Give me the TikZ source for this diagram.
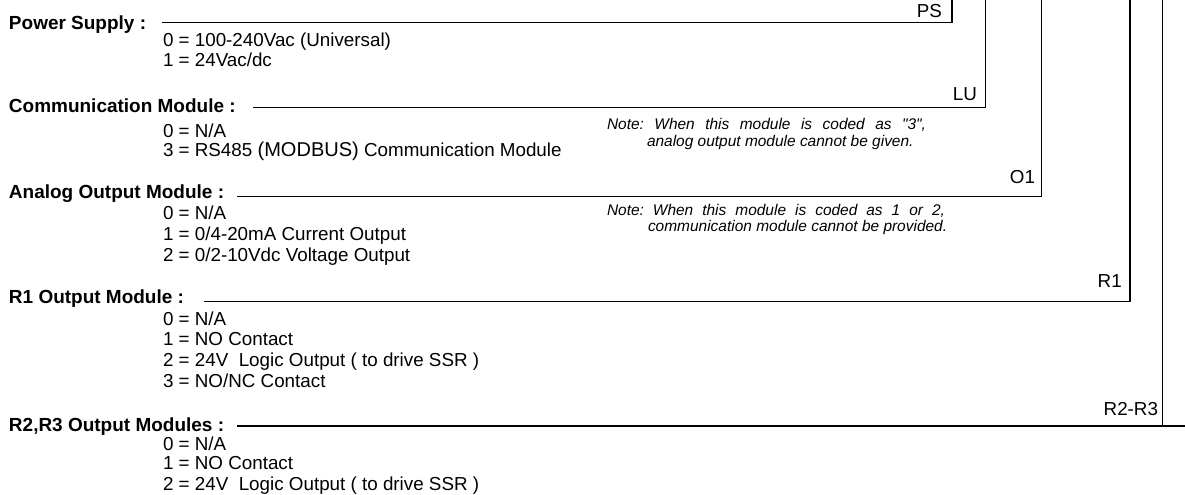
\documentclass[tikz,border=0pt]{standalone}
\usepackage{fontspec}
\setmainfont{Liberation Sans}
\frenchspacing
\newcommand\dq{\XeTeXglyph\XeTeXcharglyph"22\relax}

\begin{document}
\begin{tikzpicture}[x=0.2mm,y=-0.2mm,line width=0.75pt,
    every node/.style={inner sep=0pt,outer sep=0pt,font=\fontsize{10.7}{12}\selectfont},
    head/.style={anchor=base west,font=\fontsize{10.8}{12}\selectfont\bfseries},
    item/.style={anchor=base west},
    tag/.style={anchor=base east},
    note/.style={anchor=base west,font=\fontsize{8.8}{10}\selectfont\itshape}]
  \useasboundingbox (0,0) rectangle (1185,494);

  % power supply
  \node[head] (ps) at (9,29.3) {Power Supply :};
  \node[item] (ps0) at (163,46.7) {0 = 100-240Vac (Universal)};
  \node[item] (ps1) at (163,66.7) {1 = 24Vac/dc};
  \node[tag] (pstag) at (942,17.3) {PS};
  \coordinate (psa) at (162,22.7);
  \coordinate (psb) at (952,22.7);
  \coordinate (pst) at (952,0);
  \draw (psa) -- (psb) -- (pst);

  % communication
  \node[head] (lu) at (9,112.3) {Communication Module :};
  \node[item] (lu0) at (163,137.3) {0 = N/A};
  \node[item] (lu3) at (163,156.7) {3 = RS485 {\fontsize{11.4}{12}\selectfont(MODBUS)} Communication Module};
  \node[tag] (lutag) at (977,100) {LU};
  \node[note] (lunote1) at (607,129.3) {\makebox[63.8mm][s]{Note: When this module is coded as \dq3\dq,}};
  \node[note] (lunote2) at (647,146.7) {analog output module cannot be given.};
  \coordinate (lua) at (253,107.3);
  \coordinate (lub) at (985.7,107.3);
  \coordinate (lut) at (985.7,0);
  \draw (lua) -- (lub) -- (lut);

  % analog output
  \node[head] (oa) at (9,198.3) {Analog Output Module :};
  \node[item] (oa0) at (163,219.3) {0 = N/A};
  \node[item] (oa1) at (163,240.7) {1 = 0/4-20mA Current Output};
  \node[item] (oa2) at (163,261) {2 = 0/2-10Vdc Voltage Output};
  \node[tag] (oatag) at (1035,183.3) {O1};
  \node[note] (oanote1) at (607,215) {\makebox[67.6mm][s]{Note: When this module is coded as 1 or 2,}};
  \node[note] (oanote2) at (648,231.7) {communication module cannot be provided.};
  \coordinate (oaa) at (237,196.3);
  \coordinate (oab) at (1041.5,196.3);
  \coordinate (oat) at (1041.5,0);
  \draw (oaa) -- (oab) -- (oat);

  % relay 1
  \node[head] (ra) at (9,303.3) {R1 Output Module :};
  \node[item] (ra0) at (163,325) {0 = N/A};
  \node[item] (ra1) at (163,345.5) {1 = NO Contact};
  \node[item] (ra2) at (163,366) {2 = 24V~ Logic Output ( to drive SSR )};
  \node[item] (ra3) at (163,387) {3 = NO/NC Contact};
  \node[tag] (ratag) at (1121.7,287.7) {R1};
  \coordinate (raa) at (204,301.3);
  \coordinate (rab) at (1130,301.3);
  \coordinate (rat) at (1130,0);
  \draw (raa) -- (rab) -- (rat);

  % relay 2 and 3
  \node[head] (rb) at (9,431.7) {R2,R3 Output Modules :};
  \node[item] (rb0) at (163,450) {0 = N/A};
  \node[item] (rb1) at (163,469.7) {1 = NO Contact};
  \node[item] (rb2) at (163,490) {2 = 24V~ Logic Output ( to drive SSR )};
  \node[tag] (rbtag) at (1158,415) {R2-R3};
  \coordinate (rba) at (237,426);
  \coordinate (rbb) at (1162.7,426);
  \coordinate (rbc) at (1185,426);
  \coordinate (rbt) at (1162.7,0);
  \draw (rba) -- (rbc) (rbb) -- (rbt);
\end{tikzpicture}
\end{document}
